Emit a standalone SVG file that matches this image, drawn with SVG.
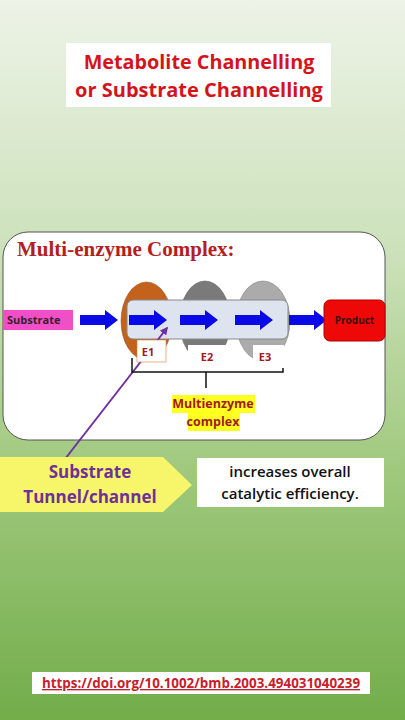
<svg xmlns="http://www.w3.org/2000/svg" width="405" height="720" viewBox="0 0 405 720">
<defs>
<linearGradient id="bg" x1="0" y1="0" x2="0" y2="1">
<stop offset="0" stop-color="#edf3e7"/>
<stop offset="0.35" stop-color="#cce1ba"/>
<stop offset="0.65" stop-color="#a0c97e"/>
<stop offset="1" stop-color="#72ad4a"/>
</linearGradient>
<marker id="ah" viewBox="0 0 10 10" refX="8" refY="5" markerWidth="4" markerHeight="4" orient="auto">
<path d="M0,0 L10,5 L0,10 z" fill="#7030a0"/>
</marker>
<path id="barrow" d="M0,-5 H25 V-10 L38,0 L25,10 V5 H0 z"/>
</defs>
<style>
.sans{font-family:"Open Sans","Noto Sans","Liberation Sans",sans-serif;font-weight:bold}
.blue{fill:#0a0ae6}
.elab{fill:#a3191c;font-size:11px;text-anchor:middle}
</style>
<rect width="405" height="720" fill="url(#bg)"/>

<g id="title">
<rect x="66" y="43" width="265" height="64" fill="#ffffff"/>
<text class="sans" x="199" y="69" font-size="19.8" fill="#d3151b" text-anchor="middle">Metabolite Channelling</text>
<text class="sans" x="199" y="97" font-size="20" fill="#d3151b" text-anchor="middle">or Substrate Channelling</text>
</g>

<g id="panel">
<rect x="3" y="232" width="382" height="208" rx="25" fill="#ffffff" stroke="#555" stroke-width="1"/>
<text x="17" y="256" font-family="'Liberation Serif','DejaVu Serif',serif" font-weight="bold" font-size="21" fill="#b41e1e">Multi-enzyme Complex:</text>
</g>

<g id="substrate">
<rect x="3" y="310" width="70" height="20" fill="#f04fc8"/>
<text class="sans" x="7" y="324" font-size="11" fill="#3a2030">Substrate</text>
</g>

<g id="enzymes">
<ellipse cx="146.5" cy="321" rx="25.5" ry="39" fill="#c2621c" stroke="#8a4a1a" stroke-width="0.5"/>
<ellipse cx="205" cy="321" rx="25.5" ry="40" fill="#7a7a7a" stroke="#555" stroke-width="0.5"/>
<ellipse cx="263" cy="321" rx="27" ry="40" fill="#ababab" stroke="#777" stroke-width="0.5"/>
</g>

<g id="channel">
<rect x="127" y="300" width="161" height="39" rx="6" fill="#dde3ef" stroke="#888" stroke-width="1"/>
</g>

<g id="connectors">
<use href="#barrow" x="80" y="320" class="blue"/>
<use href="#barrow" x="129" y="320" class="blue"/>
<use href="#barrow" x="180" y="320" class="blue"/>
<use href="#barrow" x="235" y="320" class="blue"/>
<use href="#barrow" x="289" y="320" class="blue"/>
<line x1="58" y1="468" x2="167" y2="328" stroke="#7030a0" stroke-width="2" marker-end="url(#ah)"/>
<path d="M132,358 V372 H283 V358 M206,372 V388" fill="none" stroke="#111" stroke-width="1.5"/>
</g>

<g id="e1"><rect x="137" y="340" width="29" height="22" fill="#fff" stroke="#d08040" stroke-width="0.6"/><text class="sans elab" x="148" y="356">E1</text></g>
<g id="e2"><rect x="188" y="345" width="45" height="23" fill="#fff"/><text class="sans elab" x="207" y="361">E2</text></g>
<g id="e3"><rect x="253" y="345" width="31" height="23" fill="#fff"/><text class="sans elab" x="265" y="361">E3</text></g>

<g id="product">
<rect x="324" y="300" width="61" height="41" rx="6" fill="#ee0808" stroke="#a00" stroke-width="1"/>
<text class="sans" x="354.5" y="324" font-size="10" fill="#3a1010" text-anchor="middle">Product</text>
</g>

<g id="mec">
<rect x="172" y="395" width="83" height="18" fill="#ffff20"/>
<rect x="188" y="413" width="52" height="18" fill="#ffff20"/>
<text class="sans" x="213" y="408" font-size="12.5" fill="#a3191c" text-anchor="middle">Multienzyme</text>
<text class="sans" x="213" y="426" font-size="12.5" fill="#a3191c" text-anchor="middle">complex</text>
</g>

<g id="tunnel">
<path d="M0,457 H163 L192,485 L163,512 H0 z" fill="#f7f66a"/>
<text class="sans" x="90" y="478" font-size="17" fill="#70309a" text-anchor="middle">Substrate</text>
<text class="sans" x="90" y="503" font-size="17" fill="#70309a" text-anchor="middle">Tunnel/channel</text>
</g>

<g id="efficiency">
<rect x="197" y="458" width="187" height="49" fill="#ffffff"/>
<text x="290" y="477" font-family="'Open Sans','Noto Sans',sans-serif" font-weight="600" font-size="15" fill="#111" text-anchor="middle">increases overall</text>
<text x="290" y="499" font-family="'Open Sans','Noto Sans',sans-serif" font-weight="600" font-size="15" fill="#111" text-anchor="middle">catalytic efficiency.</text>
</g>

<g id="doi">
<rect x="32" y="672" width="338" height="22" fill="#ffffff"/>
<text class="sans" x="201" y="688" font-size="13.4" fill="#c8202a" text-anchor="middle" text-decoration="underline">https://doi.org/10.1002/bmb.2003.494031040239</text>
</g>
</svg>
